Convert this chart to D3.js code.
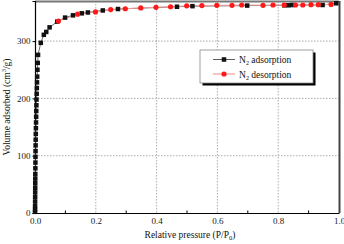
<!DOCTYPE html>
<html><head><meta charset="utf-8">
<script src="https://cdn.jsdelivr.net/npm/d3@7"></script>
<style>body{margin:0;background:#fff}svg{display:block}</style>
</head><body>
<svg id="c" width="344" height="244"></svg>
<script>
const adsX = [0.0001,0.0002,0.0003,0.0004,0.0005,0.0006,0.0007,0.0008,0.0009,0.001,0.0012,0.0014,0.0016,0.0018,0.002,0.0023,0.0026,0.003,0.0034,0.0038,0.0042,0.0046,0.005,0.0055,0.006,0.0066,0.0072,0.008,0.009,0.010,0.019,0.029,0.037,0.048,0.073,0.099,0.125,0.154,0.174,0.223,0.273,0.467,0.518,0.698,0.820,0.833,0.846,0.946,0.991];
const adsY = [2,6,12,20,28,36,44,52,60,68,78,88,98,108,118,128,138,148,158,168,178,188,198,208,218,228,238,250,262,276,297,311,316,324,334,341,345,348.5,350,353.5,356,360,361,362,362.5,362.5,363,363,366];
const desX = [0.077,0.140,0.199,0.249,0.297,0.348,0.398,0.446,0.499,0.549,0.598,0.648,0.680,0.750,0.783,0.820,0.857,0.881,0.908,0.932,0.974];
const desY = [335,347,351,355,356.5,358,359,360,361.5,362,362.5,362.5,363,362.5,363,363,363,363,363.5,363.5,364];
const xTicks = [0,0.2,0.4,0.6,0.8,1.0];
const yTicks = [0,100,200,300];
const seriesNames = ["adsorption","desorption"];

const svg = d3.select("#c");
const m = {l:35, r:339, t:1, b:213};
const x = d3.scaleLinear().domain([0,1]).range([m.l, m.r]);
const y = d3.scaleLinear().domain([0,370]).range([m.b, m.t]);
const font = "'Liberation Serif','Times New Roman',serif";

// grid
const g = svg.append("g");
g.selectAll(".vg").data(xTicks.slice(1,-1)).join("line")
 .attr("x1",d=>x(d)).attr("x2",d=>x(d)).attr("y1",m.t).attr("y2",m.b)
 .attr("stroke","#999").attr("stroke-width",0.8).attr("stroke-dasharray","1.5,1.5");
g.selectAll(".hg").data(yTicks.slice(1)).join("line")
 .attr("y1",d=>y(d)).attr("y2",d=>y(d)).attr("x1",m.l).attr("x2",m.r)
 .attr("stroke","#999").attr("stroke-width",0.8).attr("stroke-dasharray","1.5,1.5");

// frame
svg.append("line").attr("x1",m.l).attr("x2",m.r).attr("y1",m.t+0.5).attr("y2",m.t+0.5).attr("stroke","#777").attr("stroke-width",2);
svg.append("line").attr("x1",m.r+0.5).attr("x2",m.r+0.5).attr("y1",m.t).attr("y2",m.b).attr("stroke","#444").attr("stroke-width",2);

// axes
const xAxis = d3.axisBottom(x).tickValues(xTicks).tickFormat(d3.format(".1f")).tickSize(0).tickPadding(5);
const xa = svg.append("g").attr("transform",`translate(0,${m.b})`).call(xAxis);
xa.select(".domain").attr("stroke","#000").attr("stroke-width",1.2);
xa.selectAll("text").attr("font-family",font).attr("font-size",9).attr("fill","#222");
svg.selectAll(".mt").data([0.1,0.3,0.5,0.7,0.9]).join("line")
 .attr("x1",d=>x(d)).attr("x2",d=>x(d)).attr("y1",m.b).attr("y2",m.b-2.5).attr("stroke","#000");

const yAxis = d3.axisLeft(y).tickValues(yTicks).tickFormat(d3.format("d")).tickSize(2.5).tickPadding(2);
const ya = svg.append("g").attr("transform",`translate(${m.l},0)`).call(yAxis);
ya.select(".domain").attr("stroke","#000").attr("stroke-width",1.2);
ya.selectAll("text").attr("font-family",font).attr("font-size",9).attr("fill","#222");
ya.selectAll(".tick line").attr("stroke","#000");

// lines
const line = d3.line().x(d=>x(d[0])).y(d=>y(d[1]));
const ads = adsX.map((v,i)=>[v,adsY[i]]);
const des = desX.map((v,i)=>[v,desY[i]]);
svg.append("path").datum(ads).attr("d",line).attr("fill","none").attr("stroke","#444").attr("stroke-width",0.8);
svg.append("path").datum(des).attr("d",line).attr("fill","none").attr("stroke","#f29a9a").attr("stroke-width",1);
const s = 4.5;
svg.selectAll(".sq").data(ads).join("rect")
 .attr("x",d=>x(d[0])-s/2).attr("y",d=>y(d[1])-s/2).attr("width",s).attr("height",s).attr("fill","#111");
svg.selectAll(".ci").data(des).join("circle")
 .attr("cx",d=>x(d[0])).attr("cy",d=>y(d[1])).attr("r",2.6).attr("fill","#ff1a1a");

// legend
const L = svg.append("g").attr("transform","translate(200,50)");
L.append("rect").attr("x",2.5).attr("y",2.5).attr("width",113).attr("height",33).attr("fill","#000");
L.append("rect").attr("x",0).attr("y",0).attr("width",113).attr("height",33).attr("fill","#fff").attr("stroke","#888").attr("stroke-width",0.8);
const rows = [{n:seriesNames[0], c:"#333", y:9.5},{n:seriesNames[1], c:"#f29a9a", y:24}];
rows.forEach((r,i)=>{
  L.append("line").attr("x1",13).attr("x2",35).attr("y1",r.y).attr("y2",r.y).attr("stroke",r.c).attr("stroke-width",i?1.2:0.8);
  if(i===0) L.append("rect").attr("x",24-s/2).attr("y",r.y-s/2).attr("width",s).attr("height",s).attr("fill","#111");
  else L.append("circle").attr("cx",24).attr("cy",r.y).attr("r",2.6).attr("fill","#ff1a1a");
  const t = L.append("text").attr("x",39).attr("y",r.y+3.5).attr("font-family",font).attr("font-size",9.5).attr("fill","#111");
  t.append("tspan").text("N");
  t.append("tspan").attr("font-size",6).attr("dy",2).text("2");
  t.append("tspan").attr("dy",-2).text(" "+r.n);
});

// axis titles
const xt = svg.append("text").attr("x",(m.l+m.r)/2+3).attr("y",238).attr("text-anchor","middle")
 .attr("font-family",font).attr("font-size",9.5).attr("fill","#111");
xt.append("tspan").text("Relative pressure (P/P");
xt.append("tspan").attr("font-size",6.5).attr("dy",2).text("0");
xt.append("tspan").attr("dy",-2).text(")");
const yt = svg.append("text").attr("transform",`translate(10,${(m.t+m.b)/2}) rotate(-90)`).attr("text-anchor","middle")
 .attr("font-family",font).attr("font-size",9.5).attr("fill","#111");
yt.append("tspan").text("Volume adsorbed (cm");
yt.append("tspan").attr("font-size",6.5).attr("dy",-4).text("3");
yt.append("tspan").attr("dy",4).text("/g)");
</script>
</body></html>
